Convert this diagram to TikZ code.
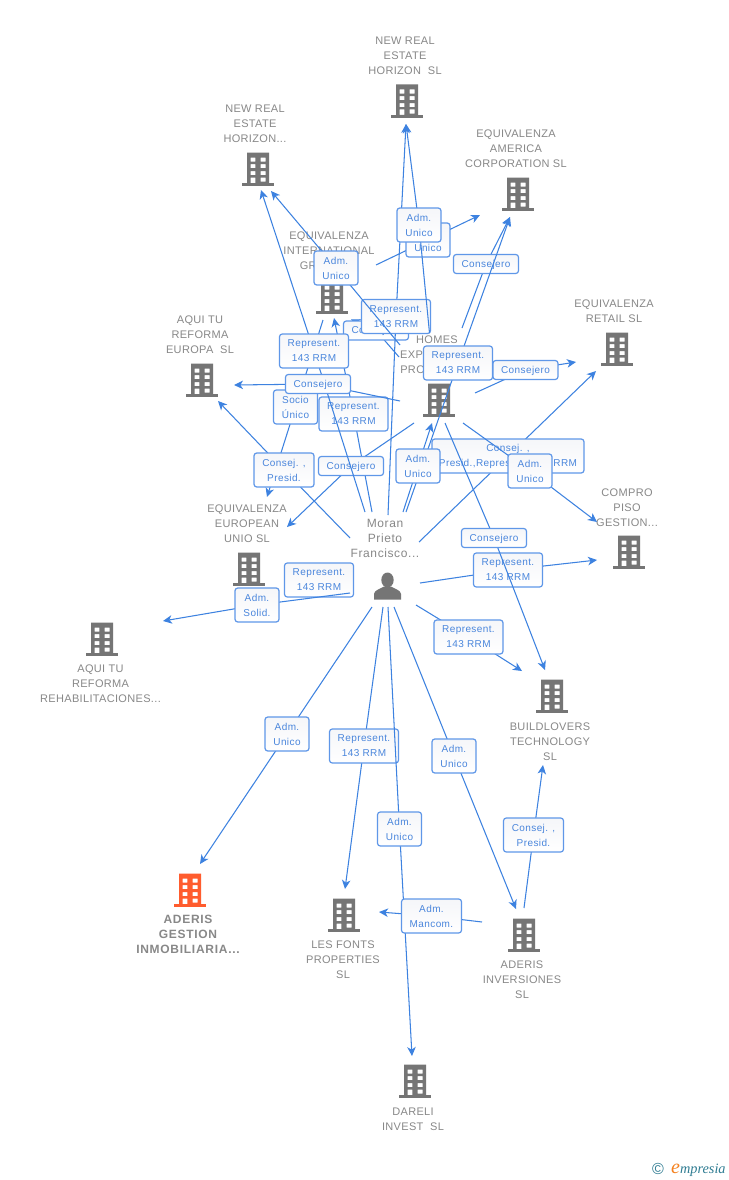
\documentclass[tikz,border=0pt]{standalone}
\usepackage{fontspec}
\setmainfont{Liberation Sans}
\newfontfamily\entfont[LetterSpace=3]{Liberation Sans}
\newfontfamily\entboldfont[LetterSpace=6]{Liberation Sans}
\newfontfamily\perfont[LetterSpace=5]{Liberation Sans}
\newfontfamily\boxfont[LetterSpace=4]{Liberation Sans}
\newfontfamily\logofont{Liberation Serif}
\usetikzlibrary{arrows.meta}
\definecolor{linkblue}{HTML}{3D82E0}
\definecolor{boxedge}{HTML}{5F97E8}
\definecolor{boxtext}{HTML}{4A86DC}
\definecolor{entgray}{HTML}{888888}
\definecolor{icongray}{HTML}{757575}
\definecolor{iconorange}{HTML}{FF5C2E}
\definecolor{boxgrad}{HTML}{F5F6F9}
\definecolor{logoteal}{HTML}{2F7C92}
\definecolor{logoorange}{HTML}{F58220}
\tikzset{
  link/.style={draw=linkblue,line width=1.05pt,line join=round,-{Stealth[length=9pt,width=8.5pt,inset=2.6pt]}},
  lbl/.style={draw=boxedge,line width=1.2pt,rounded corners=2.8pt,top color=boxgrad,bottom color=white,inner sep=0pt,
    text=boxtext,align=center,font=\boxfont\fontsize{10}{15}\selectfont,execute at begin node={\rule{0pt}{9pt}}},
  boxwide/.style={lbl,minimum width=69pt,minimum height=34pt},
  boxmid/.style={lbl,minimum width=60pt,minimum height=34pt},
  boxsmall/.style={lbl,minimum width=44pt,minimum height=34pt},
  boxflat/.style={lbl,minimum width=65pt,minimum height=19pt},
  boxlong/.style={lbl,minimum width=152pt,minimum height=34pt},
  ent/.style={text=entgray,align=center,inner sep=0pt,yshift=-0.8pt,font=\entfont\fontsize{11}{15}\selectfont},
  entmain/.style={text=entgray,align=center,inner sep=0pt,yshift=-0.8pt,font=\entboldfont\bfseries\fontsize{12}{15}\selectfont},
  per/.style={text=entgray,align=center,inner sep=0pt,font=\perfont\fontsize{12}{15}\selectfont},
  iconbox/.style={minimum width=31pt,minimum height=34pt,inner sep=0pt},
}
\newcommand{\bldg}[4]{%
  \node[iconbox] (#1) at (#2,#3) {};
  \begin{scope}[shift={(#2,#3)}]
    \fill[#4,even odd rule]
      (-11,-16.5) rectangle (11,14)
      (-7.5,-11.5) rectangle (-2.6,-7.4) (2.6,-11.5) rectangle (7.5,-7.4)
      (-7.5,-4.8) rectangle (-2.6,-0.8) (2.6,-4.8) rectangle (7.5,-0.8)
      (-7.5,2.1) rectangle (-2.6,6.1) (2.6,2.1) rectangle (7.5,6.1)
      (-7.5,8.5) rectangle (-2.6,14) (2.6,8.5) rectangle (7.5,12.6);
    \fill[#4] (-15.6,14) rectangle (15.6,17);
  \end{scope}}
\begin{document}
\begin{tikzpicture}[x=1pt,y=-1pt]
\useasboundingbox (0,0) rectangle (728,1180);
\fill[white] (0,0) rectangle (728,1180);
% entity labels
\node[ent] (tNREsl) at (405,55) {NEW REAL\\ESTATE\\HORIZON\ \ SL};
\node[ent] (tNREh) at (255,123) {NEW REAL\\ESTATE\\HORIZON...};
\node[ent] (tAmer) at (516,148) {EQUIVALENZA\\AMERICA\\CORPORATION SL};
\node[ent] (tRetail) at (614,310.5) {EQUIVALENZA\\RETAIL SL};
\node[ent] (tIntl) at (329,250) {EQUIVALENZA\\INTERNATIONAL\\GR\hphantom{OUP SL}};
\node[ent] (tHomes) at (437,354) {HOMES\\EXP\hphantom{ERIENCE}\\PRO\hphantom{PERTIES}};
\node[ent] (tEuropa) at (200,334) {AQUI TU\\REFORMA\\EUROPA\ \ SL};
\node[ent] (tUnio) at (247,523) {EQUIVALENZA\\EUROPEAN\\UNIO SL};
\node[ent] (tCompro) at (627,507) {COMPRO\\PISO\\GESTION...};
\node[ent] (tRehab) at (100.5,683) {AQUI TU\\REFORMA\\REHABILITACIONES...};
\node[ent] (tBuild) at (550,741) {BUILDLOVERS\\TECHNOLOGY\\SL};
\node[entmain] (tAderis) at (188,934) {ADERIS\\GESTION\\INMOBILIARIA...};
\node[ent] (tFonts) at (343,959) {LES FONTS\\PROPERTIES\\SL};
\node[ent] (tInv) at (522,979) {ADERIS\\INVERSIONES\\SL};
\node[ent] (tDareli) at (413,1118.5) {DARELI\\INVEST\ \ SL};
\node[per] (tMoran) at (385,538) {Moran\\Prieto\\Francisco...};
% icons
\bldg{bNREsl}{407}{101}{icongray}
\bldg{bNREh}{258}{169}{icongray}
\bldg{bAmer}{518}{194}{icongray}
\bldg{bRetail}{617}{349}{icongray}
\bldg{bIntl}{332}{297}{icongray}
\bldg{bHomes}{439}{400}{icongray}
\bldg{bEuropa}{202}{380}{icongray}
\bldg{bUnio}{249}{569}{icongray}
\bldg{bCompro}{629}{552}{icongray}
\bldg{bRehab}{102}{639}{icongray}
\bldg{bBuild}{552}{696}{icongray}
\bldg{bAderis}{190}{890}{iconorange}
\bldg{bFonts}{344}{915}{icongray}
\bldg{bInv}{524}{935}{icongray}
\bldg{bDareli}{415}{1081}{icongray}
\node[minimum size=30pt,inner sep=0pt] (person) at (388,585) {};
\fill[icongray] (387.5,580) ellipse (6.2 and 7.5);
\fill[icongray] (374,599.5) -- (374,594) .. controls (374.5,590) and (380,589) .. (384,586.5) -- (391,586.5) .. controls (395,589) and (400.5,590) .. (401,594) -- (401,599.5) -- cycle;
% connectors with their labels
\coordinate (a1) at (420,583); \coordinate (b1) at (597,560); \coordinate (c1) at (508,570);
\draw[link] (a1) -- (c1) -- (b1); \node[boxwide] (L1) at (c1) {Represent.\\143 RRM};
\coordinate (a2) at (416,605); \coordinate (b2) at (522,671); \coordinate (c2) at (468.5,637);
\draw[link] (a2) -- (c2) -- (b2); \node[boxwide] (L2) at (c2) {Represent.\\143 RRM};
\coordinate (a3) at (372,607); \coordinate (b3) at (200,864); \coordinate (c3) at (287,734);
\draw[link] (a3) -- (c3) -- (b3); \node[boxsmall] (L3) at (c3) {Adm.\\Unico};
\coordinate (a4) at (383,607); \coordinate (b4) at (345,889); \coordinate (c4) at (364,746);
\draw[link] (a4) -- (c4) -- (b4); \node[boxwide] (L4) at (c4) {Represent.\\143 RRM};
\coordinate (a5) at (388,607); \coordinate (b5) at (412,1056); \coordinate (c5) at (399.5,829);
\draw[link] (a5) -- (c5) -- (b5); \node[boxsmall] (L5) at (c5) {Adm.\\Unico};
\coordinate (a6) at (394,607); \coordinate (b6) at (516,909); \coordinate (c6) at (454,756);
\draw[link] (a6) -- (c6) -- (b6); \node[boxsmall] (L6) at (c6) {Adm.\\Unico};
\coordinate (a7) at (524,908); \coordinate (b7) at (543,765); \coordinate (c7) at (533.5,835);
\draw[link] (a7) -- (c7) -- (b7); \node[boxmid] (L7) at (c7) {Consej. ,\\Presid.};
\coordinate (a8) at (482,922); \coordinate (b8) at (379,912); \coordinate (c8) at (431.5,916);
\draw[link] (a8) -- (c8) -- (b8); \node[boxmid] (L8) at (c8) {Adm.\\Mancom.};
\coordinate (a9) at (399,357); \coordinate (b9) at (351,319.5); \coordinate (c9) at (376,330.5);
\draw[link] (a9) -- (c9) -- (b9); \node[boxflat] (L9) at (c9) {Consejero};
\coordinate (a10) at (388,515); \coordinate (b10) at (406,124); \coordinate (c10) at (396,316.5);
\draw[link] (a10) -- (c10) -- (b10); \node[boxwide] (L10) at (c10) {Represent.\\143 RRM};
\coordinate (a11) at (376,265); \coordinate (b11) at (480,215); \coordinate (c11) at (428,240);
\draw[link] (a11) -- (c11) -- (b11); \node[boxsmall] (L11) at (c11) {Adm.\\Unico};
\coordinate (a12) at (429.5,333); \coordinate (b12) at (406,124); \coordinate (c12) at (419,225);
\draw[link] (a12) -- (c12) -- (b12); \node[boxsmall] (L12) at (c12) {Adm.\\Unico};
\coordinate (a13) at (462,328); \coordinate (b13) at (510,217); \coordinate (c13) at (486,264);
\draw[link] (a13) -- (c13) -- (b13); \node[boxflat] (L13) at (c13) {Consejero};
\coordinate (a14) at (406,512); \coordinate (b14) at (510,217); \coordinate (c14) at (458,363);
\draw[link] (a14) -- (c14) -- (b14); \node[boxwide] (L14) at (c14) {Represent.\\143 RRM};
\coordinate (a15) at (475,393); \coordinate (b15) at (576,362); \coordinate (c15) at (525.5,370);
\draw[link] (a15) -- (c15) -- (b15); \node[boxflat] (L15) at (c15) {Consejero};
\coordinate (a16) at (419,542); \coordinate (b16) at (596,371); \coordinate (c16) at (508,456);
\draw[link] (a16) -- (c16) -- (b16); \node[boxlong] (L16) at (c16) {Consej. ,\\Presid.,Represent. 143 RRM};
\coordinate (a17) at (403,512); \coordinate (b17) at (432,423); \coordinate (c17) at (418,466);
\draw[link] (a17) -- (c17) -- (b17); \node[boxsmall] (L17) at (c17) {Adm.\\Unico};
\coordinate (a18) at (463,423); \coordinate (b18) at (597,522); \coordinate (c18) at (530,471);
\draw[link] (a18) -- (c18) -- (b18); \node[boxsmall] (L18) at (c18) {Adm.\\Unico};
\coordinate (a19) at (445,423); \coordinate (b19) at (545,670); \coordinate (c19) at (494,538);
\draw[link] (a19) -- (c19) -- (b19); \node[boxflat] (L19) at (c19) {Consejero};
\coordinate (a20) at (372,512); \coordinate (b20) at (334,318); \coordinate (c20) at (353.5,414);
\draw[link] (a20) -- (c20) -- (b20); \node[boxwide] (L20) at (c20) {Represent.\\143 RRM};
\coordinate (a21) at (414,423); \coordinate (b21) at (287,527); \coordinate (c21) at (351,466);
\draw[link] (a21) -- (c21) -- (b21); \node[boxflat] (L21) at (c21) {Consejero};
\coordinate (a22) at (323,320); \coordinate (b22) at (267,497); \coordinate (c22) at (295.5,407);
\draw[link] (a22) -- (c22) -- (b22); \node[boxsmall] (L22) at (c22) {Socio\\Único};
\coordinate (a23) at (365,512); \coordinate (b23) at (261,190); \coordinate (c23) at (314,351);
\draw[link] (a23) -- (c23) -- (b23); \node[boxwide] (L23) at (c23) {Represent.\\143 RRM};
\coordinate (a24) at (400,401); \coordinate (b24) at (234,385); \coordinate (c24) at (318,384);
\draw[link] (a24) -- (c24) -- (b24); \node[boxflat] (L24) at (c24) {Consejero};
\coordinate (a25) at (350,538); \coordinate (b25) at (218,401); \coordinate (c25) at (284,470);
\draw[link] (a25) -- (c25) -- (b25); \node[boxmid] (L25) at (c25) {Consej. ,\\Presid.};
\coordinate (a26) at (400,345); \coordinate (b26) at (271,191); \coordinate (c26) at (336,268);
\draw[link] (a26) -- (c26) -- (b26); \node[boxsmall] (L26) at (c26) {Adm.\\Unico};
\node[boxwide] (L27) at (319,580) {Represent.\\143 RRM};
\coordinate (a28) at (350,593); \coordinate (b28) at (163,621); \coordinate (c28) at (257,605);
\draw[link] (a28) -- (c28) -- (b28); \node[boxsmall] (L28) at (c28) {Adm.\\Solid.};
% logo
\node[inner sep=0pt,text=logoteal,font=\fontsize{16}{16}\selectfont] (logoC) at (658,1168.5) {©};
\node[inner sep=0pt,anchor=base west,text=logoteal,font=\logofont\itshape\fontsize{14.3}{15}\selectfont] (logoE) at (671,1173) {\textcolor{logoorange}{\fontsize{20}{15}\selectfont e}mpresia};
\end{tikzpicture}
\end{document}
